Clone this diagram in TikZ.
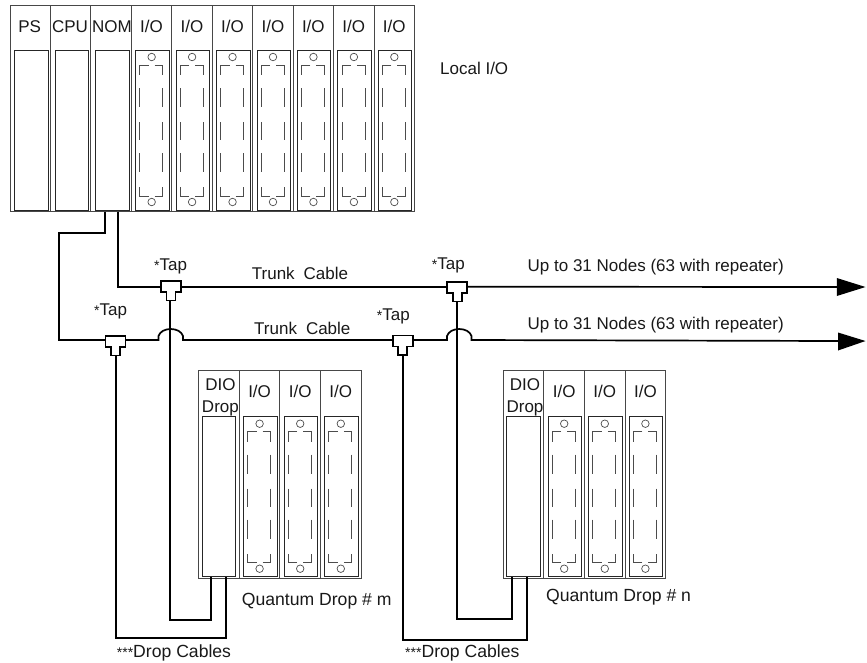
\documentclass[tikz,border=0pt]{standalone}
\usepackage{fontspec}
\setmainfont{Liberation Sans}
\newcommand{\plainpanel}[3]{% x (slot left), panel top, name
  \node[panelbox,minimum width=33.5pt,minimum height=160pt] (#3) at (#1+21,#2+80) {};
}
\newcommand{\iopanel}[3]{% x, panel top, name
  \node[panelbox,minimum width=33.5pt,minimum height=160pt] (#3) at (#1+21,#2+80) {};
  \node[holebox] (#3ht) at (#1+20.3,#2+7) {};
  \node[holebox] (#3hb) at (#1+20.3,#2+152) {};
  \draw[pinline] (#1+17.3,#2+15) -- (#1+8.3,#2+15) -- (#1+8.3,#2+25);
  \draw[pinline] (#1+23.3,#2+15) -- (#1+31.3,#2+15) -- (#1+31.3,#2+25);
  \foreach \px in {8.3,31.3}{
    \draw[pinline] (#1+\px,#2+38) -- (#1+\px,#2+57);
    \draw[pinline] (#1+\px,#2+72) -- (#1+\px,#2+90);
    \draw[pinline] (#1+\px,#2+103) -- (#1+\px,#2+122);
  }
  \draw[pinline] (#1+17.3,#2+146) -- (#1+8.3,#2+146) -- (#1+8.3,#2+137);
  \draw[pinline] (#1+23.3,#2+146) -- (#1+31.3,#2+146) -- (#1+31.3,#2+137);
}
\newcommand{\tapshape}[2]{% stem centre x, top y
  \draw[tapline] (#1-10,#2) -- (#1+10,#2) -- (#1+10,#2+11) -- (#1+4.5,#2+11) -- (#1+4.5,#2+19.5)
     -- (#1-4.5,#2+19.5) -- (#1-4.5,#2+11) -- (#1-10,#2+11) -- cycle;
}
\newcommand{\tapstar}{{\fontsize{14}{14}\selectfont *}}
\tikzset{
  x=1pt,y=-1pt,
  rackline/.style={draw=black!72,line width=0.9pt},
  panelbox/.style={draw=black!85,line width=0.9pt,fill=white,inner sep=0pt,outer sep=0pt,rectangle},
  holebox/.style={draw=black!70,line width=0.7pt,circle,minimum size=7.5pt,inner sep=0pt,fill=white},
  pinline/.style={draw=black!70,line width=0.8pt},
  cable/.style={draw=black,line width=1.7pt},
  tapline/.style={draw=black,line width=1.7pt,fill=white,line join=miter},
  lbl/.style={font=\fontsize{17}{19}\selectfont,inner sep=0pt,text=black!90,anchor=base},
  llbl/.style={lbl,anchor=base west},
  qlbl/.style={llbl,font=\fontsize{17.6}{19}\selectfont},
  headtip/.style={fill=black,draw=none},
}
\begin{document}
\begin{tikzpicture}
\useasboundingbox (0,0) rectangle (867,662);
\fill[white] (0,0) rectangle (867,662);

% local rack
\foreach \n in {0,...,9}{
  \pgfmathsetmacro{\sx}{10+40.45*\n}
  \draw[rackline] (\sx,5.5) rectangle ++(40.45,206);
}
\plainpanel{10.5}{50}{ps}
\plainpanel{51}{50}{cpu}
\plainpanel{91.4}{50}{nom}
\foreach \n in {3,...,9}{
  \pgfmathsetmacro{\sx}{10+40.45*\n}
  \iopanel{\sx}{50}{lio\n}
}
\node[lbl] (tps) at (29.7,32) {PS};
\node[lbl] (tcpu) at (70,32) {CPU};
\node[lbl] (tnom) at (112,32) {NOM};
\foreach \n in {3,...,9}{
  \pgfmathsetmacro{\sx}{30.2+40.45*\n}
  \node[lbl] (tlio\n) at (\sx,32) {I/O};
}
\node[llbl] (tlocal) at (440,74.3) {Local I/O};

% drop racks
\foreach \ox/\rk/\dx in {198.7/m/220.4,503.3/n/525}{
  \foreach \n in {0,...,3}{
    \pgfmathsetmacro{\sx}{\ox+40.6*\n}
    \draw[rackline] (\sx,370.7) rectangle ++(40.6,207.3);
  }
  \pgfmathsetmacro{\dpx}{\ox-0.7}
  \plainpanel{\dpx}{416.7}{dio\rk}
  \foreach \n in {1,2,3}{
    \pgfmathsetmacro{\sx}{\ox+40.6*\n}
    \iopanel{\sx}{416.7}{dr\rk\n}
    \pgfmathsetmacro{\tx}{\sx+20.3}
    \node[lbl] (tdr\rk\n) at (\tx,397.3) {I/O};
  }
  \node[lbl] (tdio\rk) at (\dx,390.7) {DIO};
  \node[lbl] (tdrop\rk) at (\dx,412.3) {Drop};
}

% named cable ends
\coordinate (nomA) at (105,211.5);
\coordinate (nomB) at (118.3,211.5);
\coordinate (endA) at (838,287);
\coordinate (endB) at (838,341);
\coordinate (tipA) at (865.5,287);
\coordinate (tipB) at (865.5,341);
\coordinate (dmA) at (210.7,577);
\coordinate (dmB) at (226,577);
\coordinate (dnA) at (511.7,577);
\coordinate (dnB) at (527.3,577);

\coordinate (t1) at (171,281);
\coordinate (t2) at (115.5,336);
\coordinate (t3) at (457.3,282);
\coordinate (t4) at (402.5,335.5);

% upper trunk
\draw[cable] (nomB) -- (118.3,286.7) -- (t1 |- 0,286.7);
\draw[cable] (t1 |- 0,286.7) -- (t3 |- 0,286.7);
\draw[cable] (t3 |- 0,286.7) -- (endA);
% lower trunk
\draw[cable] (nomA) -- (105,233) -- (58.7,233) -- (58.7,340) -- (t2 |- 0,340);
\draw[cable] (t2 |- 0,340) -- (158.5,340) -- (158.5,336)
   .. controls (160,331.5) and (165,329) .. (170.7,329)
   .. controls (176.5,329) and (181.5,331.5) .. (183,336) -- (183,340) -- (t4 |- 0,340);
\draw[cable] (t4 |- 0,340) -- (447,340) -- (447,336)
   .. controls (448.5,331.5) and (453.5,329) .. (459.2,329)
   .. controls (465,329) and (470,331.5) .. (471.5,336) -- (471.5,340) -- (endB);
% drop cables
\draw[cable] (170,300) -- (170,620) -- (210.7,620) -- (dmA);
\draw[cable] (116,355) -- (116,637.7) -- (226,637.7) -- (dmB);
\draw[cable] (457.3,300) -- (457.3,619) -- (511.7,619) -- (dnA);
\draw[cable] (402.7,355) -- (402.7,640) -- (527.3,640) -- (dnB);

\tapshape{171}{281}
\tapshape{115.5}{336}
\tapshape{457.3}{282}
\tapshape{402.7}{335.5}

% arrowheads
\fill[headtip] (836.8,278) -- (tipA) -- (836.8,296) -- cycle;
\fill[headtip] (838,332.5) -- (tipB) -- (838,350.5) -- cycle;

% labels
\node[llbl] (ltap1) at (154,270) {\tapstar Tap};
\node[llbl] (ltap2) at (94,315) {\tapstar Tap};
\node[llbl] (ltap3) at (431.7,269.3) {\tapstar Tap};
\node[llbl] (ltap4) at (376.7,320) {\tapstar Tap};
\node[llbl] (ltrunk1) at (251.7,279.3) {Trunk\hspace{9pt}Cable};
\node[llbl] (ltrunk2) at (254,334) {Trunk\hspace{9pt}Cable};
\node[llbl] (lup1) at (527.5,271.7) {Up to 31 Nodes (63 with repeater)};
\node[llbl] (lup2) at (527.5,329) {Up to 31 Nodes (63 with repeater)};
\node[qlbl] (lqm) at (241.7,605) {Quantum Drop \# m};
\node[qlbl] (lqn) at (546,601.7) {Quantum Drop \# n};
\node[qlbl] (ldc1) at (116.7,657.7) {{\fontsize{14}{14}\selectfont ***}Drop Cables};
\node[qlbl] (ldc2) at (405,657.7) {{\fontsize{14}{14}\selectfont ***}Drop Cables};
\end{tikzpicture}
\end{document}
